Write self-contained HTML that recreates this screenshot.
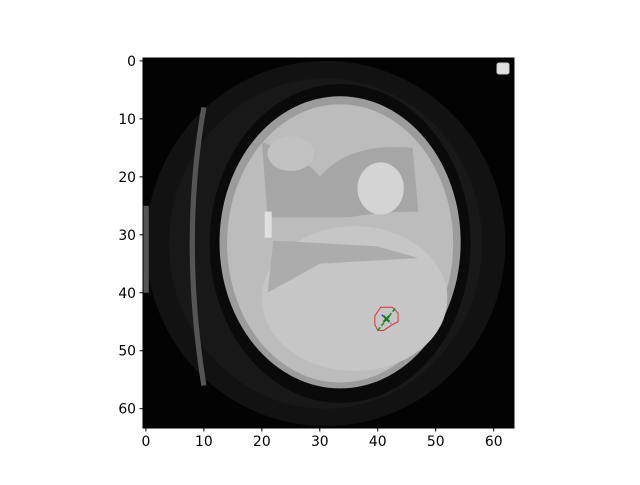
<!DOCTYPE html>
<html><head><meta charset="utf-8"><style>
body{margin:0;background:#fff;width:640px;height:480px;overflow:hidden}
text{font-family:"DejaVu Sans","Liberation Sans",sans-serif;font-size:13.9px;fill:#000}
</style></head><body>
<svg id="chart" width="640" height="480" xmlns="http://www.w3.org/2000/svg">
<defs><clipPath id="ax"><rect x="143" y="58" width="371" height="370"/></clipPath></defs>
<g id="img" clip-path="url(#ax)"></g>
<g id="ann" clip-path="url(#ax)"></g>
<rect x="143" y="58" width="371" height="370" fill="none" stroke="#000" stroke-width="1"/>
<g id="ticks"></g>
<rect x="497" y="63" width="12" height="11" rx="2" fill="#e0e0e0" stroke="#ccc"/>
</svg>
<script>
const xTicks=[0,10,20,30,40,50,60];
const yTicks=[0,10,20,30,40,50,60];
const contourX=[40.5,42.5,43.5,43.5,42.5,41,40,39.5,39.5];
const contourY=[42.5,42.5,43.5,45,45.5,46.5,46.5,45.5,44];
const centerPt=[41.5,44.5];
const majorAxis=[[40,46.5],[43,42.7]];
const minorAxis=[[40.7,43.8],[42.3,45.3]];
const X0=143,Y0=58,S=371/64;
const sx=u=>X0+(u+0.5)*S, sy=v=>Y0+(v+0.5)*S;
const NS="http://www.w3.org/2000/svg";
function mk(t,a,p){const e=document.createElementNS(NS,t);for(const k in a)e.setAttribute(k,a[k]);p.appendChild(e);return e;}
const img=document.getElementById('img');
mk('rect',{x:143,y:58,width:371,height:370,fill:'#030303'},img);
mk('ellipse',{cx:sx(31),cy:sy(31.5),rx:31*S,ry:31.5*S,fill:'#121212'},img);
mk('ellipse',{cx:sx(31),cy:sy(31.5),rx:27*S,ry:28.5*S,fill:'#181818'},img);
// left bright arc stripe
mk('path',{d:`M${sx(10)} ${sy(8)} Q${sx(6)} ${sy(31)} ${sx(10)} ${sy(56)}`,fill:'none',stroke:'#555',"stroke-width":S*0.9},img);
mk('rect',{x:sx(-0.5),y:sy(25),width:S,height:15*S,fill:'#555'},img);
mk('ellipse',{cx:sx(33.5),cy:sy(31.5),rx:22.5*S,ry:27.5*S,fill:'#0a0a0a'},img);
mk('ellipse',{cx:sx(33.5),cy:sy(31.3),rx:20.8*S,ry:25.2*S,fill:'#9c9c9c'},img);
mk('ellipse',{cx:sx(33.5),cy:sy(31.5),rx:19.5*S,ry:24*S,fill:'#bcbcbc'},img);
mk('ellipse',{cx:sx(36),cy:sy(41),rx:16*S,ry:12.5*S,fill:'#c6c6c6'},img);
// upper darker structures
mk('path',{d:`M${sx(20)} ${sy(14)} Q${sx(28)} ${sy(17)} ${sx(30)} ${sy(20)} Q${sx(35)} ${sy(14)} ${sx(46)} ${sy(15)} L${sx(47)} ${sy(26)} Q${sx(40)} ${sy(26)} ${sx(35)} ${sy(27)} L${sx(21)} ${sy(27)} Z`,fill:'#a6a6a6'},img);
mk('path',{d:`M${sx(22)} ${sy(31)} L${sx(40)} ${sy(32)} L${sx(47)} ${sy(34)} L${sx(30)} ${sy(35)} L${sx(21)} ${sy(40)} Z`,fill:'#acacac'},img);
mk('ellipse',{cx:sx(25),cy:sy(16),rx:4*S,ry:3*S,fill:'#c2c2c2'},img);
mk('ellipse',{cx:sx(40.5),cy:sy(22),rx:4*S,ry:4.5*S,fill:'#d4d4d4'},img);
mk('rect',{x:sx(20.5),y:sy(26),width:1.2*S,height:4.5*S,fill:'#e0e0e0'},img);
const ann=document.getElementById('ann');
let pts=contourX.map((x,i)=>sx(x)+','+sy(contourY[i])).join(' ');
mk('polygon',{points:pts,fill:'none',stroke:'#e03030',"stroke-width":1,},ann);
const l1=mk('line',{x1:sx(majorAxis[0][0]),y1:sy(majorAxis[0][1]),x2:sx(majorAxis[1][0]),y2:sy(majorAxis[1][1]),stroke:'#1a8a1a',"stroke-width":1.5,"stroke-dasharray":"4,2"},ann);


const l2=mk('line',{x1:sx(minorAxis[0][0]),y1:sy(minorAxis[0][1]),x2:sx(minorAxis[1][0]),y2:sy(minorAxis[1][1]),stroke:'#2233dd',"stroke-width":1.5,"stroke-dasharray":"2,2"},ann);


const cx=sx(centerPt[0]),cy=sy(centerPt[1]);
const m=mk('path',{d:`M${cx-3} ${cy-3}L${cx+3} ${cy+3}M${cx-3} ${cy+3}L${cx+3} ${cy-3}`,stroke:'#1a7a1a',"stroke-width":2},ann);


const tg=document.getElementById('ticks');
xTicks.forEach(t=>{
  const x=sx(t);
  const ln=mk('line',{x1:x,y1:428,x2:x,y2:431.5,stroke:'#000'},tg);
  
  
  const tx=mk('text',{x:x,y:446,"text-anchor":"middle"},tg);tx.textContent=t;
  
  
});
yTicks.forEach(t=>{
  const y=sy(t);
  const ln=mk('line',{x1:139.5,y1:y,x2:143,y2:y,stroke:'#000'},tg);
  
  
  const tx=mk('text',{x:136,y:y+5,"text-anchor":"end"},tg);tx.textContent=t;
  
  
});
</script>
</body></html>
